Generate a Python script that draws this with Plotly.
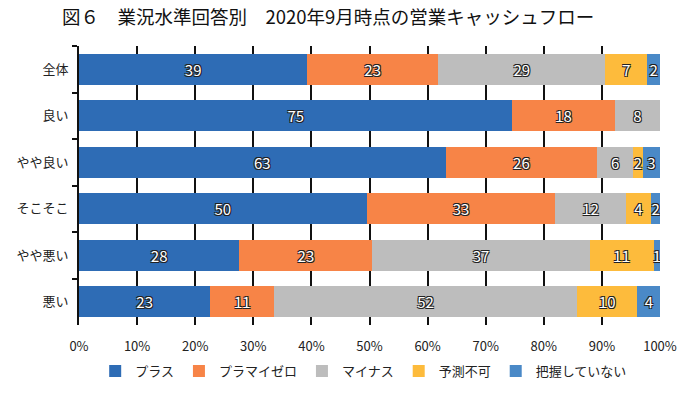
import plotly.graph_objects as go

categories = ["全体", "良い", "やや良い", "そこそこ", "やや悪い", "悪い"]
series_names = ["プラス", "プラマイゼロ", "マイナス", "予測不可", "把握していない"]

plus = [39.3, 74.6, 63.1, 49.5, 27.6, 22.6]
zero = [22.5, 17.6, 26.1, 32.5, 22.9, 11.0]
minus = [28.8, 7.8, 6.2, 12.1, 37.4, 52.1]
unpredictable = [7.2, 0.0, 1.6, 4.4, 11.0, 10.4]
unknown = [2.2, 0.0, 3.0, 1.5, 1.1, 4.0]

plus_labels = ["39", "75", "63", "50", "28", "23"]
zero_labels = ["23", "18", "26", "33", "23", "11"]
minus_labels = ["29", "8", "6", "12", "37", "52"]
unpredictable_labels = ["7", "", "2", "4", "11", "10"]
unknown_labels = ["2", "", "3", "2", "1", "4"]

x_ticks = [0, 10, 20, 30, 40, 50, 60, 70, 80, 90, 100]
x_tick_labels = ["0%", "10%", "20%", "30%", "40%", "50%", "60%", "70%", "80%", "90%", "100%"]

colors = ["#2E6CB5", "#F78447", "#BDBDBD", "#FDBB3C", "#4A89C7"]
values = [plus, zero, minus, unpredictable, unknown]
labels = [plus_labels, zero_labels, minus_labels, unpredictable_labels, unknown_labels]

FONT = "Noto Sans CJK JP"
shadow = "-1px -1px 0 #222, 1px -1px 0 #222, -1px 1px 0 #222, 1px 1px 0 #222"

fig = go.Figure()
for name, vals, labs, col in zip(series_names, values, labels, colors):
    fig.add_trace(go.Bar(
        y=categories, x=vals, name=name, orientation="h",
        marker=dict(color=col, line=dict(width=0)),
        text=labs, textposition="inside", insidetextanchor="middle",
        constraintext="none", textangle=0,
        textfont=dict(family=FONT, size=15, color="white", shadow=shadow),
        hoverinfo="skip",
    ))

fig.update_layout(
    barmode="stack",
    bargap=0.33,
    width=691, height=394,
    margin=dict(l=78.5, r=31, t=46, b=69, autoexpand=False),
    paper_bgcolor="white", plot_bgcolor="white",
    font=dict(family=FONT, size=13, color="#222"),
    title=dict(
        text="図６　業況水準回答別　2020年9月時点の営業キャッシュフロー",
        x=62 / 691, xanchor="left", xref="container",
        y=1 - 18 / 394, yanchor="middle", yref="container",
        font=dict(family=FONT, size=18.5, color="#111"),
    ),
    legend=dict(
        orientation="h", x=0.49, xanchor="center", y=-0.165, yanchor="middle",
        font=dict(family=FONT, size=13, color="#222"),
        itemwidth=30, traceorder="normal",
    ),
)

fig.update_xaxes(
    range=[0, 100], tickvals=x_ticks, ticktext=x_tick_labels,
    showgrid=True, gridcolor="#111", gridwidth=1.6,
    showline=False, zeroline=False, ticks="",
    ticklabelstandoff=12,
    tickfont=dict(family=FONT, size=13, color="#222"),
)
fig.update_yaxes(
    autorange="reversed", type="category", automargin=False,
    showline=True, linecolor="#111", linewidth=1.6,
    ticks="outside", tickson="boundaries", ticklen=5, tickcolor="#111", tickwidth=1.5,
    ticklabelstandoff=6,
    tickfont=dict(family=FONT, size=13, color="#222"),
    showgrid=False,
)

fig.write_html("out.html", config={"displayModeBar": False},
               post_script="document.body.style.margin='0';")
